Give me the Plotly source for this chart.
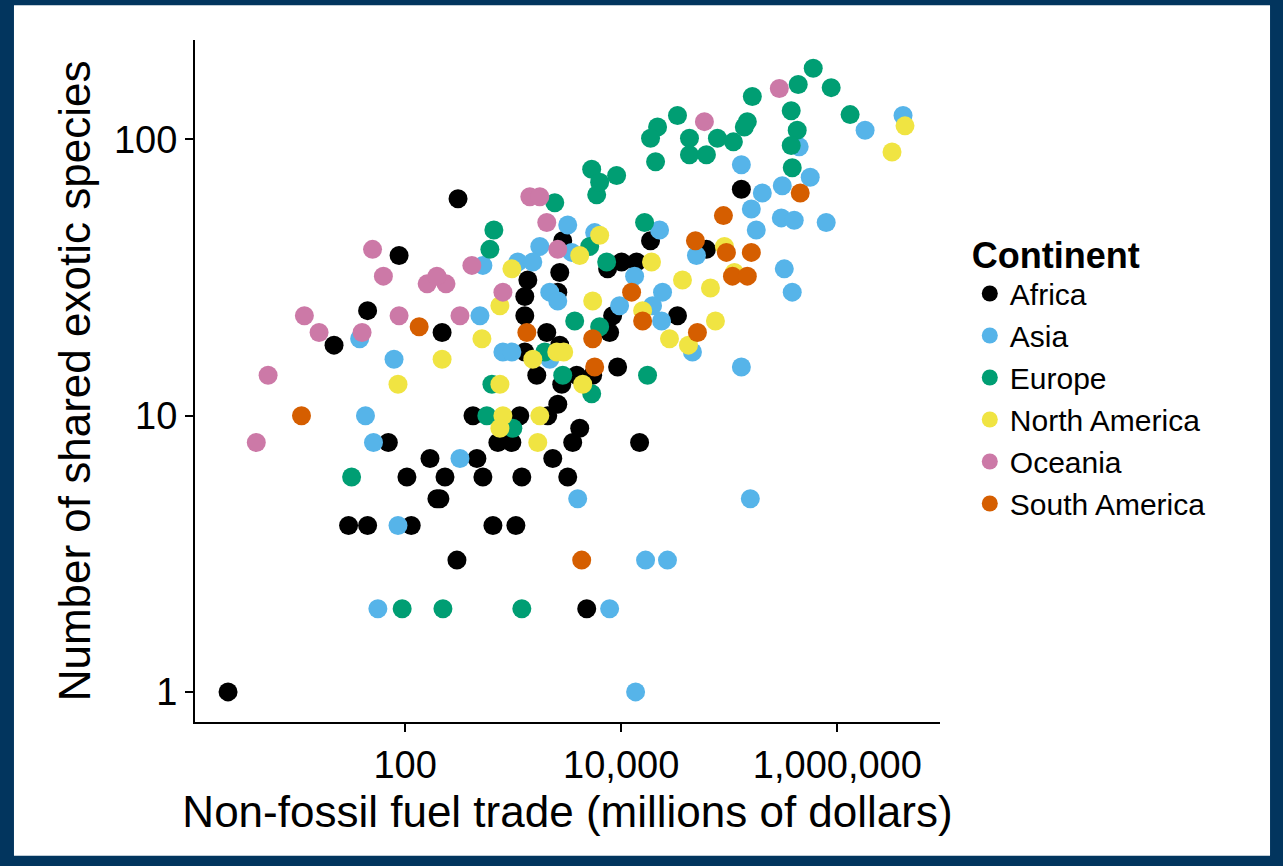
import plotly.graph_objects as go

# values (trade in millions of dollars, shared species)
africa_trade = [2.3, 309, 88, 22, 45, 70, 104, 170, 114, 197, 210, 234, 302, 220, 30, 45,
                425, 462, 525, 650, 722, 973, 1060, 1203, 1152, 933, 1368, 2700, 7484,
                10080, 13870, 1282, 2588, 1282, 2047, 1282, 2700, 8331, 33170, 7813,
                1655, 2817, 3873, 5445, 9261, 2588, 2091, 4130, 3557, 14790, 2326, 3200,
                4797, 129400, 61450, 2877, 18680]
africa_species = [1, 61, 38, 18, 24, 8, 6, 7, 4, 5, 5, 6, 3, 20, 4, 4,
                  10, 7, 6, 4, 8, 8, 4, 6, 10, 9, 31, 33, 34,
                  36, 36, 27, 28, 23, 20, 17, 18, 23, 23, 20,
                  14, 13, 14, 14, 15, 11, 10, 9, 8, 8, 7, 6,
                  2, 66, 40, 43, 43]

asia_trade = [4055000, 1806000, 443600, 129400, 561000, 309400, 202200, 160000, 303000,
              399000, 788800, 177800, 49680, 322900, 382500, 45630, 129400, 156600,
              3200, 22640, 1765, 3484, 5682, 1105, 1520, 525, 2182, 2588, 493, 9661,
              13300, 24120, 19500, 23620, 804, 973, 2182, 322, 38, 79, 43, 51, 86, 56,
              3956, 16800, 26800, 7813, 13590]
asia_species = [122, 108, 94, 81, 73, 68, 64, 56, 52,
                51, 50, 47, 38, 34, 28, 17, 15, 5,
                49, 47, 41, 39, 46, 36, 36, 35, 28, 26, 23, 25,
                32, 28, 25, 22, 17, 17, 16, 7, 19, 16, 10, 8, 4, 2,
                5, 3, 3, 2, 1]

europe_trade = [598000, 434500, 877000, 163400, 374200, 1313000, 146900, 137800, 33170,
                425200, 42820, 77700, 109200, 42820, 61450, 374200, 382500, 21700, 18680,
                20800, 5331, 9066, 5929, 6320, 2427, 16450, 663, 609, 5108, 7334, 3713,
                6320, 1963, 2877, 17530, 636, 5331, 571, 994, 32, 94, 224, 1203]
europe_species = [181, 158, 154, 143, 127, 123, 116, 111, 122,
                  108, 101, 101, 98, 88, 88, 95, 79, 111, 101,
                  83, 78, 74, 63, 70, 59, 50, 47, 40, 41, 36, 22,
                  21, 17, 14, 14, 13, 12, 10, 9, 6, 2, 2, 2]

namerica_trade = [4229000, 3206000, 111500, 36890, 66950, 74460, 41900, 90200, 6320,
                  4130, 19080, 973, 754, 5445, 15780, 514, 27980, 220, 86, 2533, 2938,
                  1520, 754, 4402, 804, 1765, 754, 1690]
namerica_species = [112, 90, 33, 31, 29, 22, 18, 41, 45,
                    38, 36, 34, 25, 26, 24, 19, 19, 16, 13, 17, 17,
                    16, 13, 13, 10, 10, 9, 8]

oceania_trade = [290400, 58880, 1426, 1765, 2047, 2588, 415, 239, 804, 322, 50, 63,
                 160, 197, 11.7, 88, 16, 40, 5.4, 4.2]
oceania_species = [153, 116, 62, 62, 50, 40, 35, 30, 28, 23, 40, 32,
                   30, 32, 23, 23, 20, 20, 14, 8]

samerica_trade = [453400, 88290, 48630, 94050, 160000, 107000, 146900, 50740, 12480,
                  15780, 5445, 1339, 5682, 135, 11, 4308]
samerica_species = [64, 53, 43, 39, 39, 32, 32, 20, 28,
                    22, 19, 20, 15, 21, 10, 3]

continents = ["Africa", "Asia", "Europe", "North America", "Oceania", "South America"]
colors = ["#000000", "#56B4E9", "#009E73", "#F0E442", "#CC79A7", "#D55E00"]
series = [(africa_trade, africa_species), (asia_trade, asia_species),
          (europe_trade, europe_species), (namerica_trade, namerica_species),
          (oceania_trade, oceania_species), (samerica_trade, samerica_species)]

FONT = "Arial, Liberation Sans, sans-serif"

fig = go.Figure()
for name, col, (xs, ys) in zip(continents, colors, series):
    fig.add_trace(go.Scatter(x=xs, y=ys, mode="markers", name=name,
                             marker=dict(color=col, size=19, line=dict(width=0))))

# white card on the dark blue frame
fig.add_shape(type="rect", xref="paper", yref="paper",
              x0=-0.243, x1=1.443, y0=-0.196, y1=1.051,
              fillcolor="white", line=dict(width=0), layer="below")

fig.update_xaxes(type="log", range=[0.056, 6.95],
                 tickvals=[100, 10000, 1000000], ticktext=["100", "10,000", "1,000,000"],
                 showline=True, linecolor="black", linewidth=2, mirror=False,
                 ticks="outside", ticklen=8, tickwidth=2, tickcolor="black",
                 showgrid=False, zeroline=False, automargin=False,
                 tickfont=dict(size=38, color="black", family=FONT),
                 title=dict(text="Non-fossil fuel trade (millions of dollars)",
                            font=dict(size=44, color="black", family=FONT), standoff=12))
fig.update_yaxes(type="log", range=[-0.109, 2.36],
                 tickvals=[1, 10, 100], ticktext=["1", "10", "100"],
                 showline=True, linecolor="black", linewidth=2,
                 ticks="outside", ticklen=8, tickwidth=2, tickcolor="black",
                 showgrid=False, zeroline=False, automargin=False,
                 tickfont=dict(size=38, color="black", family=FONT),
                 title=dict(text="Number of shared exotic species",
                            font=dict(size=44, color="black", family=FONT), standoff=10))

fig.update_layout(
    width=1283, height=866,
    margin=dict(l=195, r=343, t=40, b=144),
    paper_bgcolor="#02355e", plot_bgcolor="white",
    font=dict(family=FONT, color="black"),
    legend=dict(title=dict(text="<b>Continent</b>", font=dict(size=36)),
                font=dict(size=30, color="black"),
                x=1.04, y=0.735, xanchor="left", yanchor="top",
                bgcolor="rgba(0,0,0,0)"),
)

fig.write_html("out.html", config={"displayModeBar": False},
               post_script="document.body.style.margin='0';document.body.style.overflow='hidden';")
